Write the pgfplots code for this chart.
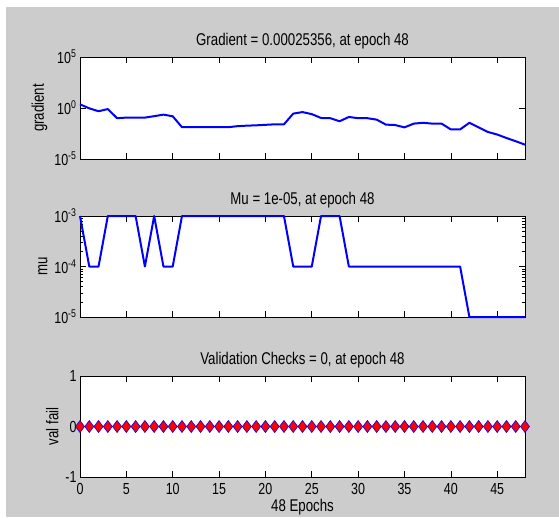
\documentclass[border=0pt]{standalone}
\usepackage{pgfplots}
\pgfplotsset{compat=1.18}
\usepackage{fontspec}
\setmainfont{Liberation Sans}[FakeStretch=0.78]

\definecolor{figgray}{RGB}{204,204,204}
\definecolor{mblue}{RGB}{0,0,255}

\pgfplotsset{
  mpanel/.style={
    scale only axis, width=445pt, height=101pt,
    xmin=0, xmax=48,
    xtick={0,5,...,45},
    tick align=inside,
    major tick length=6pt,
    minor tick length=3pt,
    axis background/.style={fill=white},
    clip=false,
    tick style={black, line width=0.6pt},
    axis line style={black, line width=0.8pt},
    every tick label/.append style={font=\fontsize{16}{18}\selectfont},
    xticklabel style={yshift=-3pt},
    title style={font=\fontsize{17}{19}\selectfont, yshift=-2pt},
    label style={font=\fontsize{17}{19}\selectfont},
    /pgf/number format/assume math mode=true,
  },
  mline/.style={mblue, line width=2pt, line join=round},
}

\begin{document}
\begin{tikzpicture}
\path[use as bounding box] (0,0) rectangle (559pt,-517pt);
\fill[white] (0,0) rectangle (559pt,-517pt);
\fill[figgray] (6pt,-7pt) rectangle (559pt,-517pt);

% gradient
\begin{axis}[mpanel, at={(80pt,-57pt)}, anchor=north west, height=102pt,
  ymode=log, ymin=1e-5, ymax=1e5,
  ytick={1e-5,1,1e5},
  yticklabels={10\textsuperscript{-5},10\textsuperscript{0},10\textsuperscript{5}},
  minor ytick={},
  xticklabels={},
  ylabel={gradient},
  title={Gradient = 0.00025356, at epoch 48}]
\addplot[mline] coordinates {
  (0,2.29) (1,0.93) (2,0.48) (3,0.79) (4,0.10) (5,0.115) (6,0.115) (7,0.115)
  (8,0.158) (9,0.224) (10,0.155) (11,0.0132) (12,0.0132) (13,0.0132) (14,0.0132)
  (15,0.0132) (16,0.0132) (17,0.0166) (18,0.0186) (19,0.020) (20,0.0224)
  (21,0.0251) (22,0.0251) (23,0.282) (24,0.398) (25,0.251) (26,0.105) (27,0.100)
  (28,0.050) (29,0.132) (30,0.100) (31,0.100) (32,0.0724) (33,0.0234) (34,0.0214)
  (35,0.0126) (36,0.0295) (37,0.0355) (38,0.0295) (39,0.0295) (40,0.00794)
  (41,0.00794) (42,0.0355) (43,0.0126) (44,0.00447) (45,0.00251) (46,0.00115)
  (47,0.00055) (48,0.00025356)};
\end{axis}

% mu
\begin{axis}[mpanel, at={(80pt,-216pt)}, anchor=north west,
  ymode=log, ymin=1e-5, ymax=1e-3,
  ytick={1e-5,1e-4,1e-3},
  yticklabels={10\textsuperscript{-5},10\textsuperscript{-4},10\textsuperscript{-3}},
  minor ytick={2e-5,3e-5,4e-5,5e-5,6e-5,7e-5,8e-5,9e-5,2e-4,3e-4,4e-4,5e-4,6e-4,7e-4,8e-4,9e-4},
  xticklabels={},
  ylabel={mu},
  title={Mu = 1e-05, at epoch 48}]
\addplot[mline] coordinates {
  (0,1e-3) (1,1e-4) (2,1e-4) (3,1e-3) (4,1e-3) (5,1e-3) (6,1e-3) (7,1e-4)
  (8,1e-3) (9,1e-4) (10,1e-4) (11,1e-3) (12,1e-3) (13,1e-3) (14,1e-3) (15,1e-3)
  (16,1e-3) (17,1e-3) (18,1e-3) (19,1e-3) (20,1e-3) (21,1e-3) (22,1e-3)
  (23,1e-4) (24,1e-4) (25,1e-4) (26,1e-3) (27,1e-3) (28,1e-3) (29,1e-4)
  (30,1e-4) (31,1e-4) (32,1e-4) (33,1e-4) (34,1e-4) (35,1e-4) (36,1e-4)
  (37,1e-4) (38,1e-4) (39,1e-4) (40,1e-4) (41,1e-4) (42,1e-5) (43,1e-5)
  (44,1e-5) (45,1e-5) (46,1e-5) (47,1e-5) (48,1e-5)};
\end{axis}

% validation checks
\begin{axis}[mpanel, at={(80pt,-376pt)}, anchor=north west,
  ymin=-1, ymax=1,
  ytick={-1,0,1},
  yticklabels={-1,0,1},
  xlabel={48 Epochs},
  xlabel style={yshift=0pt, inner sep=1pt},
  ylabel={val fail},
  title={Validation Checks = 0, at epoch 48}]
\addplot[mblue, line width=1.2pt, mark=diamond*, mark size=6pt,
  mark options={fill=red, draw=mblue, line width=0.6pt}] coordinates {
  (0,0) (1,0) (2,0) (3,0) (4,0) (5,0) (6,0) (7,0) (8,0) (9,0) (10,0) (11,0)
  (12,0) (13,0) (14,0) (15,0) (16,0) (17,0) (18,0) (19,0) (20,0) (21,0) (22,0)
  (23,0) (24,0) (25,0) (26,0) (27,0) (28,0) (29,0) (30,0) (31,0) (32,0) (33,0)
  (34,0) (35,0) (36,0) (37,0) (38,0) (39,0) (40,0) (41,0) (42,0) (43,0) (44,0)
  (45,0) (46,0) (47,0) (48,0)};
\end{axis}
\end{tikzpicture}
\end{document}
